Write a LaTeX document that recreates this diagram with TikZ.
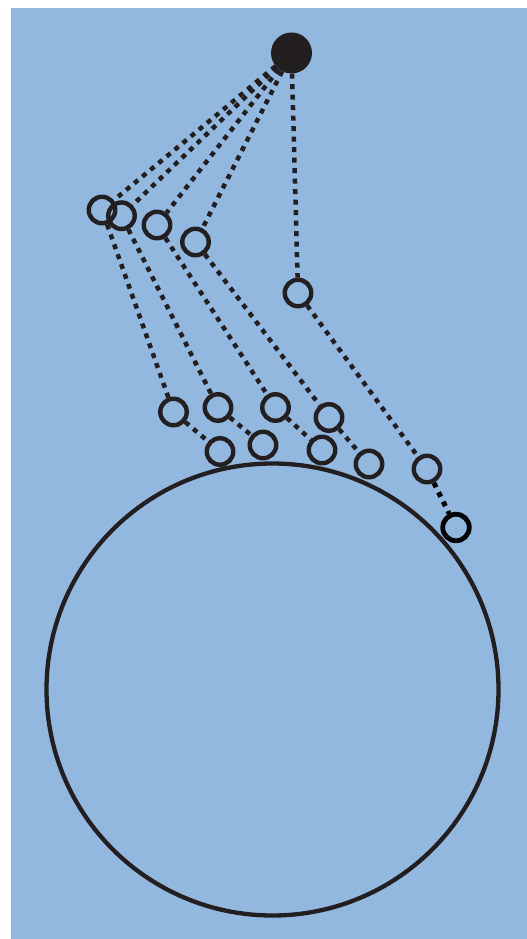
\documentclass[tikz,border=0pt]{standalone}
\definecolor{bgblue}{RGB}{146,184,223}
\definecolor{ink}{RGB}{35,31,32}
\begin{document}
\begin{tikzpicture}[x=1pt,y=-1pt,
  bob/.style={circle,draw=ink,line width=4.4pt,minimum size=26.5pt,inner sep=0pt},
  rod/.style={draw=ink,line width=4.5pt,dash pattern=on 5pt off 5.5pt},
  rodlast/.style={draw=black,line width=5pt,dash pattern=on 5pt off 5.5pt}]
\useasboundingbox (0,0) rectangle (527,939);
\fill[white] (0,0) rectangle (527,939);
\fill[bgblue] (11,8) rectangle (527,939);
% big circle
\node[circle,draw=ink,line width=4.3pt,minimum size=452pt,inner sep=0pt] (ball) at (272.5,689.5) {};
% pivot
\node[circle,fill=ink,minimum size=41pt,inner sep=0pt] (piv) at (291.5,53) {};
% level 1
\node[bob] (a1) at (102,210) {};
\node[bob] (a2) at (121.5,215.7) {};
\node[bob] (a3) at (157,225) {};
\node[bob] (a4) at (195.5,242) {};
\node[bob] (a5) at (298,293) {};
% level 2
\node[bob] (b1) at (173.5,412) {};
\node[bob] (b2) at (218,407.5) {};
\node[bob] (b3) at (275.5,407.5) {};
\node[bob] (b4) at (329,417.5) {};
\node[bob] (b5) at (427,469) {};
% level 3
\node[bob] (c1) at (220,451.5) {};
\node[bob] (c2) at (263,445) {};
\node[bob] (c3) at (322,450) {};
\node[bob] (c4) at (369,464) {};
\node[bob,draw=black,line width=4.8pt] (c5) at (456,527.5) {};
% rods
\foreach \i in {1,2,3,4,5}{
  \draw[rod] (piv) -- (a\i);
  \draw[rod] (a\i) -- (b\i);
}
\foreach \i in {1,2,3,4}{
  \draw[rod] (b\i) -- (c\i);
}
\draw[rodlast] (b5) -- (c5);
\end{tikzpicture}
\end{document}
